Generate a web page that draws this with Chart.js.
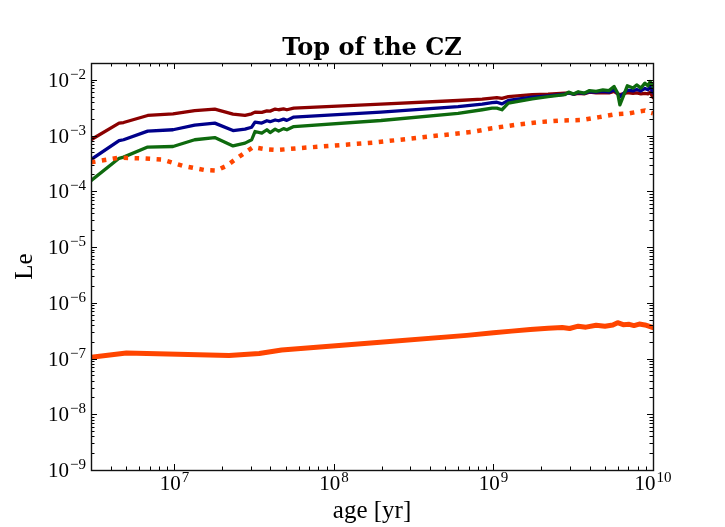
<!DOCTYPE html>
<html><head><meta charset="utf-8">
<script src="https://cdn.jsdelivr.net/npm/chart.js@4.4.1/dist/chart.umd.min.js"></script>
<style>html,body{margin:0;padding:0;background:#fff}</style>
</head><body>
<canvas id="c" width="725" height="527"></canvas>
<script>
// ---- data ----
const ageGrid = [3e6, 4.5e6, 4.8e6, 6.8e6, 9.8e6, 1.34e7, 1.79e7, 2.33e7, 2.77e7, 3.05e7, 3.2e7, 3.53e7, 3.8e7, 3.98e7, 4.28e7, 4.5e7, 4.83e7, 5.07e7, 5.6e7, 1.97e8, 6e8, 8.5e8, 9.8e8, 1.05e9, 1.13e9, 1.24e9, 1.75e9, 2.2e9, 2.8e9, 2.96e9, 3.18e9, 3.4e9, 3.7e9, 4e9, 4.4e9, 4.85e9, 5.3e9, 5.7e9, 6e9, 6.2e9, 6.5e9, 6.9e9, 7.5e9, 7.9e9, 8.4e9, 8.9e9, 9.3e9, 9.6e9, 1e10];
const redLe = [8.4e-4, 1.67e-3, 1.71e-3, 2.29e-3, 2.45e-3, 2.8e-3, 2.98e-3, 2.42e-3, 2.29e-3, 2.45e-3, 2.63e-3, 2.6e-3, 2.77e-3, 2.74e-3, 2.98e-3, 2.9e-3, 3.0e-3, 2.9e-3, 3.1e-3, 3.65e-3, 4.25e-3, 4.5e-3, 4.7e-3, 4.8e-3, 4.65e-3, 5.0e-3, 5.4e-3, 5.5e-3, 5.76e-3, 5.8e-3, 5.5e-3, 5.7e-3, 5.6e-3, 6.0e-3, 5.8e-3, 5.9e-3, 5.8e-3, 6.2e-3, 5.6e-3, 5.4e-3, 5.6e-3, 5.9e-3, 5.7e-3, 5.8e-3, 5.6e-3, 5.7e-3, 5.6e-3, 6.0e-3, 4.8e-3];
const blueLe = [3.7e-4, 8.1e-4, 8.4e-4, 1.2e-3, 1.27e-3, 1.54e-3, 1.67e-3, 1.23e-3, 1.3e-3, 1.41e-3, 1.74e-3, 1.67e-3, 1.84e-3, 1.77e-3, 1.9e-3, 1.84e-3, 1.97e-3, 1.87e-3, 2.14e-3, 2.62e-3, 3.3e-3, 3.66e-3, 3.9e-3, 3.95e-3, 3.7e-3, 4.25e-3, 4.9e-3, 5.16e-3, 5.5e-3, 5.8e-3, 5.5e-3, 5.9e-3, 5.7e-3, 6.1e-3, 6.0e-3, 6.2e-3, 6.0e-3, 6.6e-3, 5.7e-3, 5.0e-3, 5.6e-3, 6.5e-3, 6.3e-3, 6.7e-3, 6.3e-3, 7.0e-3, 6.6e-3, 7.4e-3, 5.9e-3];
const greenLe = [1.55e-4, 3.9e-4, 4.1e-4, 6.2e-4, 6.35e-4, 8.4e-4, 9.2e-4, 6.5e-4, 7.3e-4, 8.4e-4, 1.18e-3, 1.1e-3, 1.27e-3, 1.13e-3, 1.3e-3, 1.2e-3, 1.33e-3, 1.27e-3, 1.45e-3, 1.86e-3, 2.5e-3, 2.9e-3, 3.1e-3, 3.1e-3, 2.9e-3, 3.8e-3, 4.55e-3, 5.0e-3, 5.4e-3, 6.0e-3, 5.55e-3, 6.1e-3, 5.76e-3, 6.4e-3, 6.2e-3, 6.6e-3, 6.4e-3, 7.6e-3, 5.8e-3, 3.55e-3, 5.0e-3, 7.8e-3, 7.1e-3, 8.1e-3, 7.1e-3, 8.7e-3, 7.8e-3, 9.3e-3, 7.6e-3];
const dotAge = [3e6, 4.5e6, 6.2e6, 8.4e6, 1.13e7, 1.55e7, 1.83e7, 2.12e7, 2.4e7, 2.77e7, 3.12e7, 3.7e7, 4.4e7, 5.9e7, 1.8e8, 7.5e8, 9.8e8, 1.36e9, 1.93e9, 2.6e9, 3.6e9, 4.6e9, 5.9e9, 7.1e9, 8.2e9, 8.9e9, 9.5e9, 1e10];
const dotLe = [3.3e-4, 4.0e-4, 3.9e-4, 3.7e-4, 2.86e-4, 2.4e-4, 2.35e-4, 2.86e-4, 3.7e-4, 4.95e-4, 6.2e-4, 5.7e-4, 5.5e-4, 5.9e-4, 7.5e-4, 1.17e-3, 1.35e-3, 1.55e-3, 1.74e-3, 1.85e-3, 1.9e-3, 2.14e-3, 2.42e-3, 2.5e-3, 2.7e-3, 2.8e-3, 2.6e-3, 2.5e-3];
const solidAge = [3e6, 5e6, 2.2e7, 3.4e7, 4.7e7, 1.95e8, 6.8e8, 1e9, 1.3e9, 1.7e9, 2.2e9, 2.7e9, 3.0e9, 3.4e9, 3.8e9, 4.4e9, 5.0e9, 5.6e9, 6.0e9, 6.5e9, 7.1e9, 7.6e9, 8.2e9, 8.9e9, 9.4e9, 1e10];
const solidLe = [1.05e-7, 1.25e-7, 1.13e-7, 1.23e-7, 1.42e-7, 1.95e-7, 2.6e-7, 2.9e-7, 3.1e-7, 3.3e-7, 3.5e-7, 3.6e-7, 3.45e-7, 3.8e-7, 3.65e-7, 3.95e-7, 3.8e-7, 4.0e-7, 4.4e-7, 4.05e-7, 4.1e-7, 3.9e-7, 4.15e-7, 4.0e-7, 3.8e-7, 3.6e-7];
const xTickExps = [7, 8, 9, 10];
const yTickExps = [-9, -8, -7, -6, -5, -4, -3, -2];
const titleText = 'Top of the CZ';
const xLabel = 'age [yr]';
const yLabel = 'Le';

const pts = (xs, ys) => xs.map((x, i) => ({x: x, y: ys[i]}));
const base = {showLine: true, pointRadius: 0, tension: 0, fill: false, borderCapStyle: 'round', borderJoinStyle: 'round'};

const serif = '"Liberation Serif", "Times New Roman", serif';

const decor = {
  id: 'decor',
  afterDraw(chart) {
    const ctx = chart.ctx, a = chart.chartArea, xs = chart.scales.x, ys = chart.scales.y;
    ctx.save();
    ctx.strokeStyle = '#000'; ctx.lineWidth = 1;
    const seg = (x1, y1, x2, y2) => { ctx.beginPath(); ctx.moveTo(x1, y1); ctx.lineTo(x2, y2); ctx.stroke(); };
    for (let e = 6; e <= 10; e++) for (let m = 1; m < 10; m++) {
      const v = m * Math.pow(10, e);
      if (v < xs.min * 0.999 || v > xs.max * 1.001) continue;
      const p = Math.round(xs.getPixelForValue(v)) + 0.5;
      const L = m === 1 ? 6 : 3.5;
      seg(p, a.bottom, p, a.bottom - L); seg(p, a.top, p, a.top + L);
    }
    for (let e = -9; e <= -2; e++) for (let m = 1; m < 10; m++) {
      const v = m * Math.pow(10, e);
      if (v < ys.min * 0.999 || v > ys.max * 1.001) continue;
      const p = Math.round(ys.getPixelForValue(v)) + 0.5;
      const L = m === 1 ? 6 : 3.5;
      seg(a.left, p, a.left + L, p); seg(a.right, p, a.right - L, p);
    }
    ctx.strokeStyle = '#111'; ctx.lineWidth = 1.4;
    ctx.strokeRect(Math.round(a.left) + 0.5, Math.round(a.top) + 0.5, Math.round(a.right - a.left), Math.round(a.bottom - a.top));
    ctx.fillStyle = '#000'; ctx.textBaseline = 'alphabetic';
    const bigF = '21px ' + serif, smF = '15px ' + serif;
    const pow = (exp, x, baseY, align) => {
      const es = exp < 0 ? '\u2212' + (-exp) : String(exp);
      ctx.font = bigF; const w1 = ctx.measureText('10').width;
      ctx.font = smF; const w2 = ctx.measureText(es).width;
      const tot = w1 + 1 + w2;
      const x0 = align === 'right' ? x - tot : x - tot / 2;
      ctx.font = bigF; ctx.textAlign = 'left'; ctx.fillText('10', x0, baseY);
      ctx.font = smF; ctx.fillText(es, x0 + w1 + 1, baseY - 8);
    };
    xTickExps.forEach(e => pow(e, xs.getPixelForValue(Math.pow(10, e)), a.bottom + 20, 'center'));
    yTickExps.forEach(e => pow(e, a.left - 5, ys.getPixelForValue(Math.pow(10, e)) + 7, 'right'));
    ctx.font = 'bold 24px "DejaVu Serif", serif'; ctx.textAlign = 'center';
    ctx.fillText(titleText, (a.left + a.right) / 2, 55);
    ctx.font = '25px ' + serif;
    ctx.fillText(xLabel, (a.left + a.right) / 2, 518);
    ctx.save(); ctx.translate(32, (a.top + a.bottom) / 2); ctx.rotate(-Math.PI / 2);
    ctx.fillText(yLabel, 0, 0); ctx.restore();
    ctx.restore();
  }
};

new Chart(document.getElementById('c'), {
  type: 'scatter',
  data: {datasets: [
    Object.assign({}, base, {data: pts(solidAge, solidLe), borderColor: '#ff4500', borderWidth: 5, order: 0}),
    Object.assign({}, base, {data: pts(dotAge, dotLe), borderColor: '#ff4500', borderWidth: 4.5, borderDash: [4.5, 6.5], borderCapStyle: 'butt', borderJoinStyle: 'miter', order: 1}),
    Object.assign({}, base, {data: pts(ageGrid, greenLe), borderColor: '#0e6a0e', borderWidth: 3.3, order: 2}),
    Object.assign({}, base, {data: pts(ageGrid, blueLe), borderColor: '#00008b', borderWidth: 3.3, order: 3}),
    Object.assign({}, base, {data: pts(ageGrid, redLe), borderColor: '#8b0000', borderWidth: 3.3, order: 4})
  ]},
  options: {
    responsive: false, animation: false, devicePixelRatio: 1,
    layout: {padding: {left: 0, right: 72, top: 63, bottom: 0}},
    plugins: {legend: {display: false}, tooltip: {enabled: false}, title: {display: false}},
    scales: {
      x: {type: 'logarithmic', min: 3e6, max: 1e10, grid: {display: false}, border: {display: false}, ticks: {display: false}, afterFit(s) { s.height = 57; }},
      y: {type: 'logarithmic', min: 1e-9, max: 2e-2, grid: {display: false}, border: {display: false}, ticks: {display: false}, afterFit(s) { s.width = 91; }}
    }
  },
  plugins: [decor]
});
</script>
</body></html>
